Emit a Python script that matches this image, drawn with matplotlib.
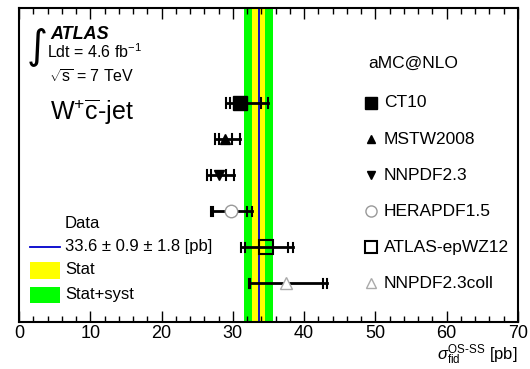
import numpy as np
import matplotlib
matplotlib.use('Agg')
import matplotlib.pyplot as plt
from matplotlib.patches import Rectangle

plt.rcParams['font.family'] = ['Liberation Sans', 'DejaVu Sans']
plt.rcParams['mathtext.fontset'] = 'custom'
plt.rcParams['mathtext.rm'] = 'Liberation Sans'
plt.rcParams['mathtext.it'] = 'Liberation Sans:italic'

# predictions (aMC@NLO), values in pb
pdfs = ['CT10', 'MSTW2008', 'NNPDF2.3', 'HERAPDF1.5', 'ATLAS-epWZ12', 'NNPDF2.3coll']
centre = [31.0, 28.9, 28.0, 29.8, 34.7, 37.5]
inner_lo = [29.6, 28.1, 27.0, 27.2, 31.7, 32.4]
inner_hi = [33.9, 29.9, 29.1, 32.0, 37.8, 42.7]
outer_lo = [29.0, 27.5, 26.4, 27.0, 31.2, 32.2]
outer_hi = [34.9, 31.0, 30.1, 32.7, 38.5, 43.2]

# measurement
data_val = 33.6
data_stat = 0.9
data_syst = 1.8
data_tot = np.sqrt(data_stat**2 + data_syst**2)

styles = [
    dict(marker='s', mfc='black', mec='black'),
    dict(marker='^', mfc='black', mec='black'),
    dict(marker='v', mfc='black', mec='black'),
    dict(marker='o', mfc='white', mec='#999999'),
    dict(marker='s', mfc='none', mec='black', mew=1.5),
    dict(marker='^', mfc='white', mec='#aaaaaa'),
]
sizes = [10, 7, 7, 9, 10, 8]
leg_sizes = [8, 6, 6, 8, 9, 7]

fig = plt.figure(figsize=(5.3, 3.69), dpi=100)
ax = fig.add_axes([19/530, 47/369, 499/530, 314/369])

rows = np.arange(len(pdfs))
ax.set_xlim(0, 70)
ax.set_ylim(6.07, -2.63)

ax.axvspan(data_val - data_tot, data_val + data_tot, color='#00ff00', lw=0)
ax.axvspan(data_val - data_stat, data_val + data_stat, color='#ffff00', lw=0)
ax.axvline(data_val, color='#0000cc', lw=1.3)

for i, y in enumerate(rows):
    ax.plot([outer_lo[i], outer_hi[i]], [y, y], color='black', lw=2, zorder=3)
    for xv in (outer_lo[i], outer_hi[i], inner_lo[i], inner_hi[i]):
        ax.plot([xv, xv], [y - 0.13, y + 0.13], color='black', lw=1.5, zorder=3)
    ax.plot(centre[i], y, ls='none', ms=sizes[i], zorder=4, **styles[i])
    # right-hand legend
    ax.plot(49.4, y, ls='none', ms=leg_sizes[i], zorder=4, **styles[i])
    ax.text(51.2, y, pdfs[i], fontsize=12.5, va='center', ha='left')

ax.text(0.699, 0.825, 'aMC@NLO', transform=ax.transAxes, fontsize=12.5, va='center')

# top-left labels
ax.text(0.016, 0.878, '\u222b', transform=ax.transAxes, fontsize=29,
        family='DejaVu Sans', va='center', ha='left')
ax.text(0.062, 0.917, 'ATLAS', transform=ax.transAxes, fontsize=13,
        weight='bold', style='italic', va='center')
ax.text(0.056, 0.860, r'Ldt = 4.6 fb$^{-1}$', transform=ax.transAxes, fontsize=11.5, va='center')
ax.text(0.060, 0.780, r'$\sqrt{\rm s}$ = 7 TeV', transform=ax.transAxes, fontsize=11.5, va='center')
ax.text(0.062, 0.669, r'W$^{+}\overline{\rm c}$-jet', transform=ax.transAxes, fontsize=18, va='center')

# lower-left legend
ax.text(0.092, 0.315, 'Data', transform=ax.transAxes, fontsize=12, va='center')
ax.plot([0.022, 0.082], [0.239, 0.239], color='#0000cc', lw=1.3, transform=ax.transAxes)
ax.text(0.092, 0.239, '33.6 \u00b1 0.9 \u00b1 1.8 [pb]', transform=ax.transAxes, fontsize=12, va='center')
ax.add_patch(Rectangle((0.022, 0.137), 0.060, 0.054, transform=ax.transAxes, color='#ffff00', lw=0))
ax.text(0.092, 0.166, 'Stat', transform=ax.transAxes, fontsize=12, va='center')
ax.add_patch(Rectangle((0.022, 0.061), 0.060, 0.050, transform=ax.transAxes, color='#00ff00', lw=0))
ax.text(0.092, 0.086, 'Stat+syst', transform=ax.transAxes, fontsize=12, va='center')

ax.set_xticks(np.arange(0, 71, 10))
ax.set_xticks(np.arange(0, 71, 2), minor=True)
ax.set_yticks([])
ax.tick_params(axis='x', which='both', direction='in', top=True, bottom=True, labelsize=13, pad=2)
ax.tick_params(axis='x', which='major', length=8, width=1)
ax.tick_params(axis='x', which='minor', length=4, width=1)
for s in ax.spines.values():
    s.set_linewidth(1.5)

fig.text(518/530, 1 - 355/369, r'$\sigma_{\rm fid}^{\rm OS\text{-}SS}$ [pb]', fontsize=12,
         ha='right', va='center')

fig.savefig('out.png', dpi=100)
